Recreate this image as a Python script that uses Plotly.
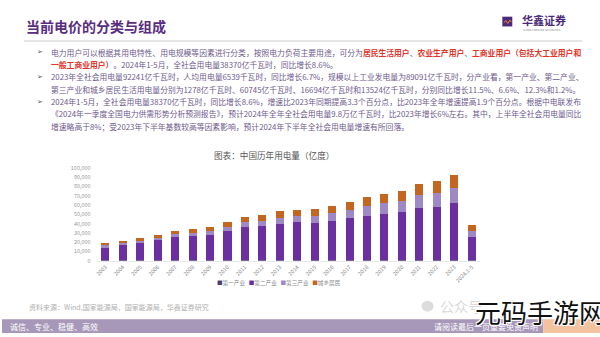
import plotly.graph_objects as go

W, H = 600, 337

years = ["2003", "2004", "2005", "2006", "2007", "2008", "2009", "2010", "2011", "2012",
         "2013", "2014", "2015", "2016", "2017", "2018", "2019", "2020", "2021", "2022",
         "2023", "2024.1-5"]
primary = [778, 809, 776, 832, 879, 879, 940, 984, 1013, 1013,
           1014, 994, 1020, 1075, 1155, 728, 780, 859, 1023, 1146, 1278, 513]
secondary = [13600, 16258, 18521, 21400, 24631, 25933, 26855, 31318, 35185, 36669,
             39143, 40650, 40046, 42108, 44413, 47235, 49362, 51215, 56131, 57001, 60745, 24952]
tertiary = [2100, 2215, 2507, 2764, 3183, 3353, 3944, 4497, 5082, 5690,
            6273, 6660, 7158, 7961, 8814, 10801, 11863, 12087, 14231, 14859, 16694, 7026]
residential = [2432, 2453, 2885, 3252, 3765, 4103, 4691, 5124, 5648, 6219,
               6793, 6929, 7276, 8054, 8695, 9685, 10250, 10949, 11743, 13366, 13524, 5879]
series_names = ["第一产业", "第二产业", "第三产业", "城乡居民"]
colors = ["#4e3b73", "#6b2fa0", "#9e88c6", "#c3661f"]

FONT = "Noto Sans CJK SC"


def px(x):
    return x / W


def py(y):
    return 1 - y / H


fig = go.Figure()
for name, vals, c in zip(series_names, [primary, secondary, tertiary, residential], colors):
    fig.add_trace(go.Bar(x=years, y=vals, name=name, marker=dict(color=c, line=dict(width=0)),
                         showlegend=False))

TXT = "#6e5a8e"
RED = "#e0352b"


def red(s):
    return f"<b><span style='color:{RED}'>{s}</span></b>"


lines = [
    ("电力用户可以根据其用电特性、用电规模等因素进行分类，按照电力负荷主要用途，可分为" + red("居民生活用户") + "、" + red("农业生产用户") + "、" + red("工商业用户（包括大工业用户和"), True),
    (red("一般工商业用户）") + "。2024年1-5月，全社会用电量38370亿千瓦时，同比增长8.6%。", False),
    ("2023年全社会用电量92241亿千瓦时，人均用电量6539千瓦时，同比增长6.7%，规模以上工业发电量为89091亿千瓦时，分产业看，第一产业、第二产业、", True),
    ("第三产业和城乡居民生活用电量分别为1278亿千瓦时、60745亿千瓦时、16694亿千瓦时和13524亿千瓦时，分别同比增长11.5%、6.6%、12.3%和1.2%。", False),
    ("2024年1-5月，全社会用电量38370亿千瓦时，同比增长8.6%，增速比2023年同期提高3.3个百分点，比2023年全年增速提高1.9个百分点。根据中电联发布", True),
    ("《2024年一季度全国电力供需形势分析预测报告》，预计2024年全年全社会用电量9.8万亿千瓦时，比2023年增长6%左右。其中，上半年全社会用电量同比", False),
    ("增速略高于8%；受2023年下半年基数较高等因素影响，预计2024年下半年全社会用电量增速有所回落。", False),
]

ann = []


def add(x, y, text, size, color, anchor="left", family=FONT, **kw):
    ann.append(dict(x=px(x), y=py(y), xref="paper", yref="paper", text=text, xanchor=anchor,
                    yanchor="middle", showarrow=False, font=dict(family=family, size=size, color=color, **kw)))


y0 = 49.5
for i, (t, bullet) in enumerate(lines):
    yy = y0 + i * 12.6
    add(47, yy, t, 7.8, TXT)
    if bullet:
        add(33, yy, "➢", 7, "#555555", family="DejaVu Sans")

add(22, 23, "<b>当前电价的分类与组成</b>", 14, "#5a2d82")
add(520, 16.5, "<b>华鑫证券</b>", 11, "#4b2a7a")
add(521, 27, "CHINA FORTUNE SECURITIES", 2.6, "#888888", family="DejaVu Sans")
add(273, 155, "图表：中国历年用电量（亿度）", 8.6, "#595959", anchor="center")
leg = "\u00a0\u00a0\u00a0".join(f"<span style='color:{c}'>■</span>{n}" for n, c in zip(series_names, colors))
add(278, 286, leg, 5.6, "#8a8a8a", anchor="center")
add(25, 310, "资料来源：Wind,国家能源局，国家能源局，华鑫证券研究", 7, "#b0b0b0")
add(6, 330, "诚信、专业、稳健、高效", 8, "#ffffff")
add(431, 330, "请阅读最后一页重要免责声明", 8, "#ffffff")
add(437, 309, "公众号", 14, "#dadada")
add(473, 315, "元码手游网", 26, "#111111",
    shadow="1px 1px 0 #fff, -1px -1px 0 #fff, 1px -1px 0 #fff, -1px 1px 0 #fff")

shapes = [
    dict(type="line", xref="paper", yref="paper", x0=px(22), x1=px(582), y0=py(38), y1=py(38),
         line=dict(color="#e6e6e6", width=2)),
    dict(type="rect", xref="paper", yref="paper", x0=px(502), x1=px(512), y0=py(23), y1=py(13),
         fillcolor="#4b2a7a", line=dict(width=0)),
    dict(type="path", xref="paper", yref="paper",
         path=f"M {px(503.5)} {py(19)} L {px(505.5)} {py(17)} L {px(507.5)} {py(20)} L {px(509.5)} {py(16.5)} L {px(511)} {py(18.5)}",
         line=dict(color="#f08a2a", width=1)),
    dict(type="rect", xref="paper", yref="paper", x0=0, x1=px(543), y0=py(337), y1=py(323),
         fillcolor="#a797b9", line=dict(width=0), layer="below"),
    dict(type="rect", xref="paper", yref="paper", x0=px(543), x1=1, y0=py(337), y1=py(323),
         fillcolor="#f3c3a0", line=dict(width=0), layer="below"),
    dict(type="circle", xref="paper", yref="paper", x0=px(421), x1=px(433), y0=py(315), y1=py(304),
         fillcolor="#dcdcdc", line=dict(width=0), layer="below"),
]

fig.update_layout(
    width=W, height=H, margin=dict(l=0, r=0, t=0, b=0),
    paper_bgcolor="#ffffff", plot_bgcolor="#ffffff",
    barmode="stack", bargap=0.54,
    font=dict(family=FONT),
    xaxis=dict(domain=[px(95), px(480)], type="category", tickangle=-45, showgrid=False,
               tickfont=dict(family=FONT, size=5.5, color="#8a8a8a"), ticks="",
               showline=True, linecolor="#e8e8e8", linewidth=1),
    yaxis=dict(domain=[py(263), py(168)], range=[0, 100000], dtick=10000, tickformat=",",
               showgrid=False, zeroline=False, ticks="", ticklabelstandoff=5,
               tickfont=dict(family=FONT, size=5.5, color="#9a9a9a")),
    annotations=ann, shapes=shapes, showlegend=False,
)

fig.write_html("out.html")
